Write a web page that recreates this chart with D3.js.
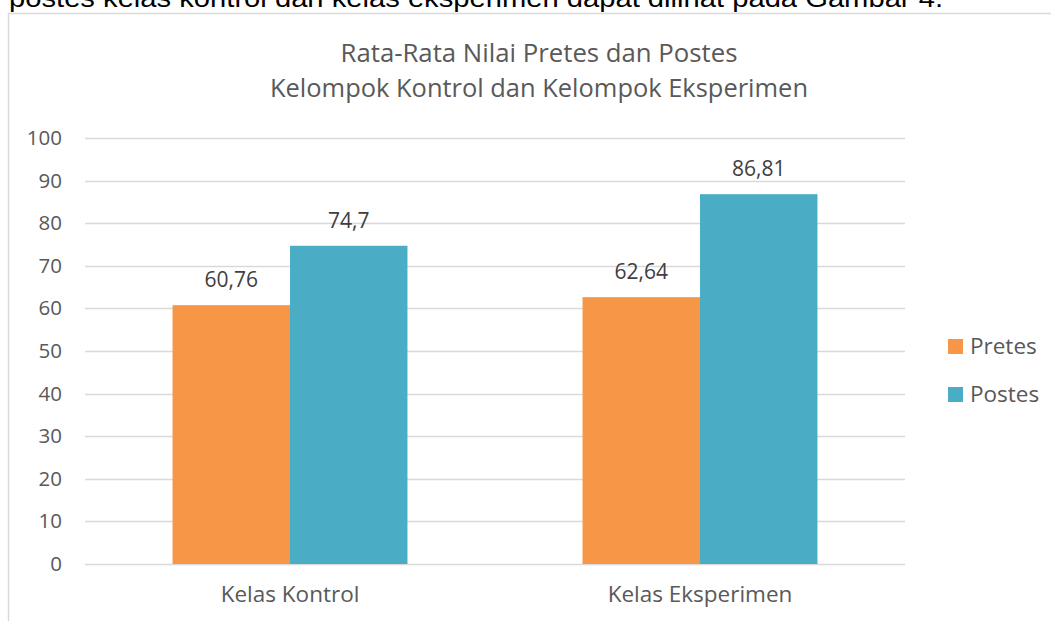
<!doctype html>
<html lang="id">
<head>
<meta charset="utf-8">
<title>Rata-Rata Nilai Pretes dan Postes</title>
<script src="https://cdnjs.cloudflare.com/ajax/libs/d3/7.8.5/d3.min.js"></script>
<style>
  body { margin: 0; background: #fff; overflow: hidden; }
  text { font-family: "Open Sans", sans-serif; fill: #595959; }
</style>
</head>
<body>
<script>
// data
var categories = ["Kelas Kontrol", "Kelas Eksperimen"];
var seriesNames = ["Pretes", "Postes"];
var pretes = [60.76, 62.64];
var postes = [74.7, 86.81];
var yTicks = [0, 10, 20, 30, 40, 50, 60, 70, 80, 90, 100];
var colors = ["#f79646", "#4bacc6"];
var titleLines = ["Rata-Rata Nilai Pretes dan Postes", "Kelompok Kontrol dan Kelompok Eksperimen"];
var pageText = "postes kelas kontrol dan kelas eksperimen dapat dilihat pada Gambar 4.";

var width = 1051, height = 621;

var svg = d3.select("body").append("svg")
    .attr("width", width)
    .attr("height", height);

// cut-off line of document text above the figure
svg.append("text")
    .attr("x", 9)
    .attr("y", 7)
    .attr("textLength", 934)
    .attr("lengthAdjust", "spacingAndGlyphs")
    .style("font-family", "'Liberation Sans', Arial, sans-serif")
    .style("font-size", "26px")
    .style("fill", "#000")
    .text(pageText);

// chart frame (only top and left edges visible)
svg.append("path")
    .attr("d", "M8.5," + (height + 2) + "V13.5H" + (width + 2))
    .attr("fill", "none")
    .attr("stroke", "#d9d9d9")
    .attr("stroke-width", 1.5);

// title
var titleLen = [397, 538];
svg.selectAll(".title")
    .data(titleLines)
    .enter().append("text")
    .attr("class", "title")
    .attr("x", 539)
    .attr("y", function(d, i) { return 62 + i * 35; })
    .attr("text-anchor", "middle")
    .attr("textLength", function(d, i) { return titleLen[i]; })
    .attr("lengthAdjust", "spacingAndGlyphs")
    .style("font-size", "25px")
    .text(function(d) { return d; });

var x0 = d3.scaleBand()
    .domain(categories)
    .range([85, 905])
    .paddingInner(0.427)
    .paddingOuter(0.2135);

var x1 = d3.scaleBand()
    .domain(seriesNames)
    .range([0, x0.bandwidth()]);

var y = d3.scaleLinear()
    .domain([0, 100])
    .range([564, 138]);

// gridlines
svg.append("g")
    .selectAll("line")
    .data(yTicks)
    .enter().append("line")
    .attr("x1", 85)
    .attr("x2", 905)
    .attr("y1", function(d) { return Math.round(y(d)) + 0.5; })
    .attr("y2", function(d) { return Math.round(y(d)) + 0.5; })
    .attr("stroke", "#d9d9d9")
    .attr("stroke-width", 1.5);

// y axis labels
var yAxis = svg.append("g")
    .attr("transform", "translate(85,0)")
    .call(d3.axisLeft(y).tickValues(yTicks).tickSize(0).tickPadding(23));
yAxis.select(".domain").remove();
yAxis.selectAll("text")
    .attr("fill", "#595959")
    .style("font-family", "'Open Sans', sans-serif")
    .style("font-size", "20.5px");

// x axis labels
var xAxis = svg.append("g")
    .attr("transform", "translate(0,564)")
    .call(d3.axisBottom(x0).tickSize(0).tickPadding(22));
xAxis.select(".domain").remove();
xAxis.selectAll("text")
    .attr("fill", "#595959")
    .style("font-family", "'Open Sans', sans-serif")
    .style("font-size", "22.5px");

// bars
var rows = categories.map(function(c, i) {
  return [
    { cat: c, key: seriesNames[0], value: pretes[i], color: colors[0] },
    { cat: c, key: seriesNames[1], value: postes[i], color: colors[1] }
  ];
});

var groups = svg.append("g")
    .selectAll("g")
    .data(rows)
    .enter().append("g")
    .attr("transform", function(d) { return "translate(" + x0(d[0].cat) + ",0)"; });

groups.selectAll("rect")
    .data(function(d) { return d; })
    .enter().append("rect")
    .attr("x", function(d) { return x1(d.key); })
    .attr("y", function(d) { return y(d.value); })
    .attr("width", x1.bandwidth())
    .attr("height", function(d) { return y(0) - y(d.value); })
    .attr("fill", function(d) { return d.color; });

// data labels
groups.selectAll(".lbl")
    .data(function(d) { return d; })
    .enter().append("text")
    .attr("class", "lbl")
    .attr("x", function(d) { return x1(d.key) + x1.bandwidth() / 2; })
    .attr("y", function(d) { return y(d.value) - 18; })
    .attr("text-anchor", "middle")
    .style("font-size", "21px")
    .style("fill", "#404040")
    .text(function(d) { return String(d.value).replace(".", ","); });

// legend
var legend = svg.append("g")
    .selectAll("g")
    .data(seriesNames)
    .enter().append("g")
    .attr("transform", function(d, i) { return "translate(948," + (339 + i * 48) + ")"; });

legend.append("rect")
    .attr("width", 15)
    .attr("height", 15)
    .attr("fill", function(d, i) { return colors[i]; });

legend.append("text")
    .attr("x", 22)
    .attr("y", 15)
    .style("font-size", "22.5px")
    .text(function(d) { return d; });
</script>
</body>
</html>
